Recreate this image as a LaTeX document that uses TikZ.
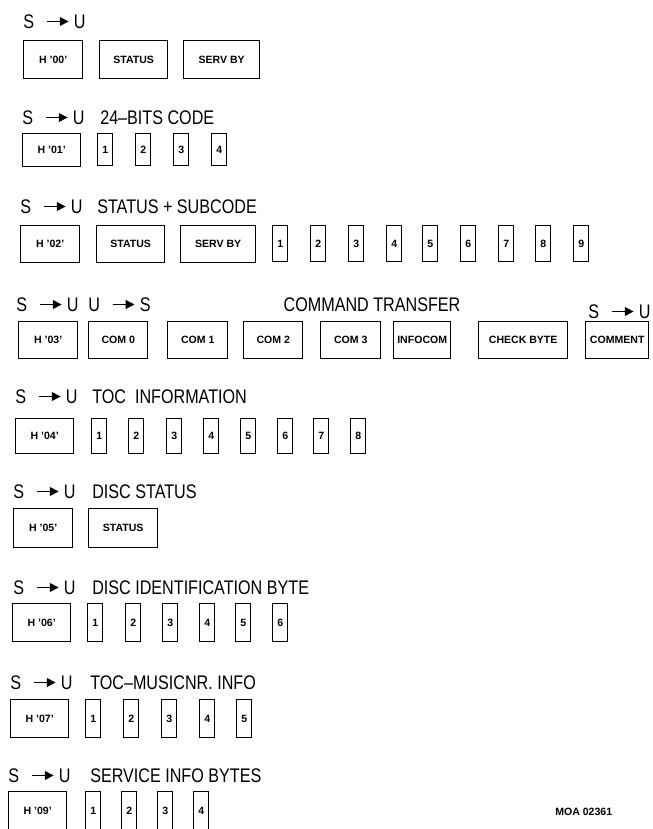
\documentclass[tikz,border=0pt]{standalone}
\usepackage{fontspec}
\setmainfont{Liberation Sans}
\newfontfamily\hdrfont[FakeStretch=0.82,Ligatures=TeX]{Liberation Sans}
\usetikzlibrary{arrows.meta}
\newcommand\pxl{0.025cm}
\newcommand\sarrow{\tikz[baseline=-0.7ex,x=1cm,y=1cm]\draw[line width=0.8pt,-{Triangle[length=2.2mm,width=2.2mm]}] (0,0) -- (0.55,0);}
\newcommand\su{S\hspace{3mm}\sarrow\hspace{1.2mm}U}
\newcommand\us{U\hspace{3mm}\sarrow\hspace{1.2mm}S}
\tikzset{
  hdr/.style={anchor=west,inner sep=0pt,font=\hdrfont\fontsize{14}{14}\selectfont},
  wide/.style={draw,line width=1pt,anchor=north west,inner sep=0pt,
    font=\bfseries\fontsize{7.5}{8}\selectfont},
  digit/.style={wide,minimum width=15*\pxl},
  tag/.style={anchor=west,inner sep=0pt,font=\bfseries\fontsize{7.5}{8}\selectfont},
}
\begin{document}
\begin{tikzpicture}[x=\pxl,y=-\pxl]
  \useasboundingbox (0,0) rectangle (652,829);
  % H'00'
  \node[hdr] (s1) at (23,22) {\su};
  \foreach \n/\l/\r/\t in {h/23/82/{H '00'},st/99/167/STATUS,sb/183/259/SERV BY}
    \node[wide,minimum width=(\r-\l)*\pxl,minimum height=38*\pxl] (r1\n) at (\l,40) {\t};
  % H'01'
  \node[hdr] (s2) at (22,118) {\su};
  \node[hdr] (t2) at (100,118) {24–BITS CODE};
  \node[wide,minimum width=58*\pxl,minimum height=33*\pxl] (r2h) at (22,133) {H '01'};
  \foreach \i/\l in {1/97,2/135,3/173,4/211}
    \node[digit,minimum height=32*\pxl] (r2d\i) at (\l,133) {\i};
  % H'02'
  \node[hdr] (s3) at (20,207) {\su};
  \node[hdr] (t3) at (97,207) {STATUS + SUBCODE};
  \foreach \n/\l/\r/\t in {h/20/79/{H '02'},st/96/164/STATUS,sb/180/255/SERV BY}
    \node[wide,minimum width=(\r-\l)*\pxl,minimum height=37*\pxl] (r3\n) at (\l,225) {\t};
  \foreach \i/\l in {1/272,2/310,3/348,4/386,5/422,6/460,7/498,8/535,9/573}
    \node[digit,minimum height=36*\pxl] (r3d\i) at (\l,225) {\i};
  % H'03'
  \node[hdr] (s4) at (16,305) {\su};
  \node[hdr] (u4) at (88,305) {\us};
  \node[hdr,anchor=center] (t4) at (372,305) {COMMAND TRANSFER};
  \node[hdr] (s4r) at (588,312) {\su};
  \foreach \n/\l/\r/\t in {h/18/77/{H '03'},c0/88/147/COM 0,c1/167/227/COM 1,c2/243/302/COM 2,
      c3/320/380/COM 3,ic/393/450/INFOCOM,cb/478/567/CHECK BYTE,cm/585/648/COMMENT}
    \node[wide,minimum width=(\r-\l)*\pxl,minimum height=37*\pxl] (r4\n) at (\l,321) {\t};
  % H'04'
  \node[hdr] (s5) at (15,397) {\su};
  \node[hdr] (t5) at (92,397) {TOC\ \ INFORMATION};
  \node[wide,minimum width=58*\pxl,minimum height=35*\pxl] (r5h) at (15,418) {H '04'};
  \foreach \i/\l in {1/91,2/128,3/166,4/203,5/240,6/277,7/313,8/350}
    \node[digit,minimum height=35*\pxl] (r5d\i) at (\l,418) {\i};
  % H'05'
  \node[hdr] (s6) at (13,492) {\su};
  \node[hdr] (t6) at (92,492) {DISC STATUS};
  \foreach \n/\l/\r/\t in {h/13/72/{H '05'},st/88/157/STATUS}
    \node[wide,minimum width=(\r-\l)*\pxl,minimum height=39*\pxl] (r6\n) at (\l,508) {\t};
  % H'06'
  \node[hdr] (s7) at (13,588) {\su};
  \node[hdr] (t7) at (92,588) {DISC IDENTIFICATION BYTE};
  \node[wide,minimum width=58*\pxl,minimum height=38*\pxl] (r7h) at (12,603) {H '06'};
  \foreach \i/\l in {1/87,2/125,3/162,4/199,5/235,6/272}
    \node[digit,minimum height=38*\pxl] (r7d\i) at (\l,603) {\i};
  % H'07'
  \node[hdr] (s8) at (10,683) {\su};
  \node[hdr] (t8) at (90,683) {TOC–MUSICNR. INFO};
  \node[wide,minimum width=58*\pxl,minimum height=38*\pxl] (r8h) at (10,699) {H '07'};
  \foreach \i/\l in {1/85,2/123,3/161,4/199,5/236}
    \node[digit,minimum height=38*\pxl] (r8d\i) at (\l,699) {\i};
  % H'09'
  \node[hdr] (s9) at (8,776) {\su};
  \node[hdr] (t9) at (90,776) {SERVICE INFO BYTES};
  \node[wide,minimum width=58*\pxl,minimum height=38*\pxl] (r9h) at (8,791) {H '09'};
  \foreach \i/\l in {1/85,2/121,3/157,4/193}
    \node[digit,minimum height=38*\pxl] (r9d\i) at (\l,791) {\i};
  \node[tag] (moa) at (555,812) {MOA 02361};
\end{tikzpicture}
\end{document}
